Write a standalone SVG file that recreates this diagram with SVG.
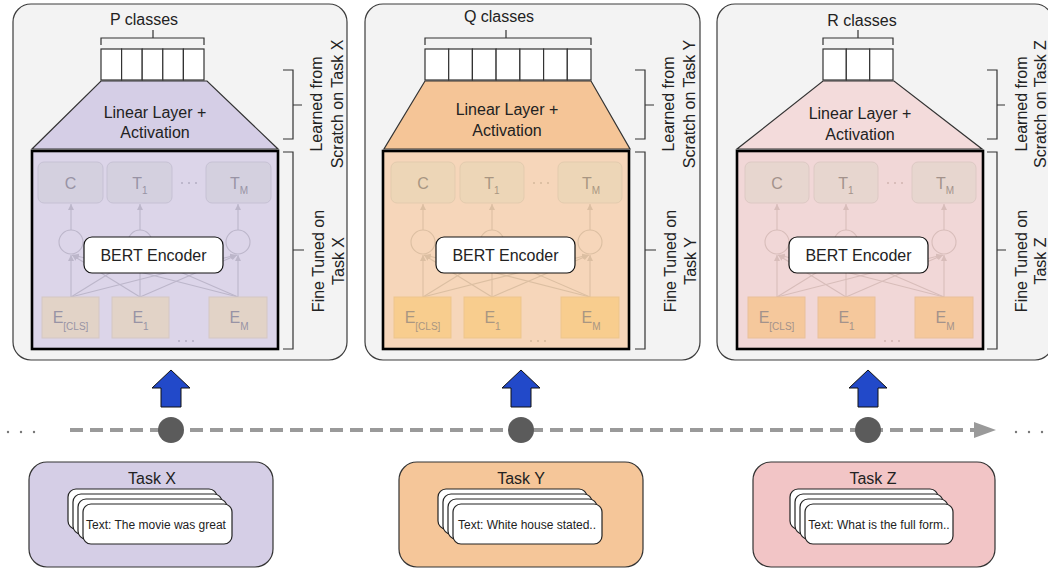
<svg xmlns="http://www.w3.org/2000/svg" width="1048" height="568" viewBox="0 0 1048 568">
<style>
.panel{fill:#f3f3f3;stroke:#3c3c3c;stroke-width:1.2}
.ln{fill:none;stroke:#333;stroke-width:1.2}
.cell{fill:#fff;stroke:#333;stroke-width:1.2}
.t{font-family:'Liberation Sans',Arial,sans-serif;font-size:16px;fill:#222}
.t12{font-family:'Liberation Sans',Arial,sans-serif;font-size:12px;fill:#222}
.trap{stroke:#333;stroke-width:1.2}
.bert{stroke:#000;stroke-width:2.6}
.enc{fill:#fff;stroke:#111;stroke-width:1.2}
.tb,.eb{stroke-width:1}
.fl{fill:none;stroke-width:1.1}
.ft{font-family:'Liberation Sans',Arial,sans-serif;font-size:16px}
.sub{font-size:10px}
.pX .bg{fill:#dcd5e9}.pX .tb{fill:#d4d0df;stroke:#c6c1d4}.pX .eb{fill:#e2d3c7;stroke:#d4c7c4}.pX .ft{fill:#9893a5}.pX .fl{stroke:#bcb6ca}.pX .fd{fill:#b3adc2}
.pY .bg{fill:#f6d6ba}.pY .tb{fill:#edd6b7;stroke:#e3cbae}.pY .eb{fill:#f8cd8e;stroke:#edc58d}.pY .ft{fill:#a99682}.pY .fl{stroke:#dcbfa2}.pY .fd{fill:#d4b89b}
.pZ .bg{fill:#f1d7d7}.pZ .tb{fill:#e7d6cf;stroke:#ddc9c4}.pZ .eb{fill:#f5c89c;stroke:#e9c09a}.pZ .ft{fill:#a3928b}.pZ .fl{stroke:#d8bdba}.pZ .fd{fill:#d0b4b1}
.card{fill:#fff;stroke:#222;stroke-width:1.2}
.task{stroke:#333;stroke-width:1.2}
.blue{fill:#2249c9;stroke:#111;stroke-width:1}
.dot{fill:#5b5b5b}
.gd{fill:#777}
</style>
<defs>
<marker id="mkX" viewBox="0 0 6 6" refX="6" refY="3" markerWidth="6" markerHeight="6" markerUnits="userSpaceOnUse" orient="auto"><path d="M0 0 L6 3 L0 6 Z" fill="#bcb6ca"/></marker>
<marker id="mkY" viewBox="0 0 6 6" refX="6" refY="3" markerWidth="6" markerHeight="6" markerUnits="userSpaceOnUse" orient="auto"><path d="M0 0 L6 3 L0 6 Z" fill="#dcbfa2"/></marker>
<marker id="mkZ" viewBox="0 0 6 6" refX="6" refY="3" markerWidth="6" markerHeight="6" markerUnits="userSpaceOnUse" orient="auto"><path d="M0 0 L6 3 L0 6 Z" fill="#d8bdba"/></marker>
<marker id="mkT" viewBox="0 0 10 10" refX="0" refY="5" markerWidth="22" markerHeight="16" markerUnits="userSpaceOnUse" orient="auto" preserveAspectRatio="none"><path d="M0 0 L10 5 L0 10 Z" fill="#9a9a9a"/></marker>
</defs>

<!-- ===== Panel X ===== -->
<g id="panel-x" class="pX">
  <rect class="panel" x="13" y="4" width="334" height="356" rx="18"/>
  <g id="x-classes">
    <text class="t" x="144" y="25" text-anchor="middle">P classes</text>
    <path class="ln" d="M101 45 V38 H204 V45 M153 38 V30"/>
    <rect class="cell" x="101" y="49" width="20.6" height="31"/>
    <rect class="cell" x="121.6" y="49" width="20.6" height="31"/>
    <rect class="cell" x="142.2" y="49" width="20.6" height="31"/>
    <rect class="cell" x="162.8" y="49" width="20.6" height="31"/>
    <rect class="cell" x="183.4" y="49" width="20.6" height="31"/>
  </g>
  <g id="x-linear">
    <polygon class="trap" points="101,81 207,81 278,149 32,149" fill="#d5cee6"/>
    <text class="t" x="155" y="118" text-anchor="middle">Linear Layer +</text>
    <text class="t" x="155" y="138" text-anchor="middle">Activation</text>
  </g>
  <g id="x-bert">
    <rect class="bg bert" x="32" y="151" width="246" height="198"/>
    <g>
      <rect class="tb" x="38" y="162" width="65" height="41" rx="6"/>
      <rect class="tb" x="107" y="162" width="65" height="41" rx="6"/>
      <rect class="tb" x="206" y="162" width="65" height="41" rx="6"/>
      <text class="ft" x="70.5" y="189" text-anchor="middle">C</text>
      <text class="ft" x="140" y="189" text-anchor="middle">T<tspan class="sub" dy="5">1</tspan></text>
      <text class="ft" x="239" y="189" text-anchor="middle">T<tspan class="sub" dy="5">M</tspan></text>
      <circle class="fd" cx="182" cy="183" r="1"/><circle class="fd" cx="189" cy="183" r="1"/><circle class="fd" cx="196" cy="183" r="1"/>
      <circle class="fl" cx="71" cy="242" r="12"/><circle class="fl" cx="140" cy="242" r="12"/><circle class="fl" cx="238" cy="242" r="12"/>
      <path class="fl" marker-end="url(#mkX)" d="M71 230 V204"/>
      <path class="fl" marker-end="url(#mkX)" d="M140 230 V204"/>
      <path class="fl" marker-end="url(#mkX)" d="M238 230 V204"/>
      <path class="fl" marker-end="url(#mkX)" d="M71 297 L71 255"/>
      <path class="fl" marker-end="url(#mkX)" d="M140 297 L72 255"/>
      <path class="fl" marker-end="url(#mkX)" d="M238 297 L73 255"/>
      <path class="fl" marker-end="url(#mkX)" d="M71 297 L139 255"/>
      <path class="fl" marker-end="url(#mkX)" d="M140 297 L140 255"/>
      <path class="fl" marker-end="url(#mkX)" d="M238 297 L141 255"/>
      <path class="fl" marker-end="url(#mkX)" d="M71 297 L236 255"/>
      <path class="fl" marker-end="url(#mkX)" d="M140 297 L237 255"/>
      <path class="fl" marker-end="url(#mkX)" d="M238 297 L238 255"/>
      <rect class="eb" x="42" y="297" width="57" height="41"/>
      <rect class="eb" x="112" y="297" width="57" height="41"/>
      <rect class="eb" x="209" y="297" width="58" height="41"/>
      <text class="ft" x="70.5" y="323" text-anchor="middle">E<tspan class="sub" dy="7">[CLS]</tspan></text>
      <text class="ft" x="140.5" y="323" text-anchor="middle">E<tspan class="sub" dy="7">1</tspan></text>
      <text class="ft" x="239" y="323" text-anchor="middle">E<tspan class="sub" dy="7">M</tspan></text>
      <circle class="fd" cx="179" cy="341" r="1"/><circle class="fd" cx="186" cy="341" r="1"/><circle class="fd" cx="193" cy="341" r="1"/>
    </g>
    <rect class="enc" x="84" y="237" width="139" height="36" rx="8"/>
    <text class="t" x="153.5" y="261" text-anchor="middle">BERT Encoder</text>
  </g>
  <g id="x-brackets">
    <path class="ln" d="M283 70 H293 V139 H283 M293 105 H302"/>
    <path class="ln" d="M283 152 H293 V349 H283 M293 250 H304"/>
    <text class="t" transform="translate(322,104) rotate(-90)" text-anchor="middle">Learned from</text>
    <text class="t" transform="translate(343,104) rotate(-90)" text-anchor="middle">Scratch on Task X</text>
    <text class="t" transform="translate(324,261) rotate(-90)" text-anchor="middle">Fine Tuned on</text>
    <text class="t" transform="translate(344,261) rotate(-90)" text-anchor="middle">Task X</text>
  </g>
</g>

<!-- ===== Panel Y ===== -->
<g id="panel-y" class="pY">
  <rect class="panel" x="365" y="4" width="335" height="356" rx="18"/>
  <g id="y-classes">
    <text class="t" x="499" y="22" text-anchor="middle">Q classes</text>
    <path class="ln" d="M425 45 V38 H591 V45 M506 38 V30"/>
    <rect class="cell" x="425" y="49" width="23.7" height="31"/>
    <rect class="cell" x="448.7" y="49" width="23.7" height="31"/>
    <rect class="cell" x="472.4" y="49" width="23.7" height="31"/>
    <rect class="cell" x="496.1" y="49" width="23.7" height="31"/>
    <rect class="cell" x="519.9" y="49" width="23.7" height="31"/>
    <rect class="cell" x="543.6" y="49" width="23.7" height="31"/>
    <rect class="cell" x="567.3" y="49" width="23.7" height="31"/>
  </g>
  <g id="y-linear">
    <polygon class="trap" points="425,81 591,81 630,149 384,149" fill="#f5c597"/>
    <text class="t" x="507" y="115" text-anchor="middle">Linear Layer +</text>
    <text class="t" x="507" y="136" text-anchor="middle">Activation</text>
  </g>
  <g id="y-bert" transform="translate(351,0)">
    <rect class="bg bert" x="32" y="151" width="246" height="198"/>
    <g>
      <rect class="tb" x="40" y="162" width="64" height="41" rx="6"/>
      <rect class="tb" x="109" y="162" width="64" height="41" rx="6"/>
      <rect class="tb" x="207" y="162" width="64" height="41" rx="6"/>
      <text class="ft" x="72" y="189" text-anchor="middle">C</text>
      <text class="ft" x="141" y="189" text-anchor="middle">T<tspan class="sub" dy="5">1</tspan></text>
      <text class="ft" x="240" y="189" text-anchor="middle">T<tspan class="sub" dy="5">M</tspan></text>
      <circle class="fd" cx="183" cy="183" r="1"/><circle class="fd" cx="190" cy="183" r="1"/><circle class="fd" cx="197" cy="183" r="1"/>
      <circle class="fl" cx="72" cy="242" r="12"/><circle class="fl" cx="141" cy="242" r="12"/><circle class="fl" cx="239" cy="242" r="12"/>
      <path class="fl" marker-end="url(#mkY)" d="M72 230 V204"/>
      <path class="fl" marker-end="url(#mkY)" d="M141 230 V204"/>
      <path class="fl" marker-end="url(#mkY)" d="M239 230 V204"/>
      <path class="fl" marker-end="url(#mkY)" d="M72 297 L72 255"/>
      <path class="fl" marker-end="url(#mkY)" d="M141 297 L73 255"/>
      <path class="fl" marker-end="url(#mkY)" d="M239 297 L74 255"/>
      <path class="fl" marker-end="url(#mkY)" d="M72 297 L140 255"/>
      <path class="fl" marker-end="url(#mkY)" d="M141 297 L141 255"/>
      <path class="fl" marker-end="url(#mkY)" d="M239 297 L142 255"/>
      <path class="fl" marker-end="url(#mkY)" d="M72 297 L237 255"/>
      <path class="fl" marker-end="url(#mkY)" d="M141 297 L238 255"/>
      <path class="fl" marker-end="url(#mkY)" d="M239 297 L239 255"/>
      <rect class="eb" x="43" y="297" width="57" height="41"/>
      <rect class="eb" x="113" y="297" width="57" height="41"/>
      <rect class="eb" x="210" y="297" width="58" height="41"/>
      <text class="ft" x="71.5" y="323" text-anchor="middle">E<tspan class="sub" dy="7">[CLS]</tspan></text>
      <text class="ft" x="141.5" y="323" text-anchor="middle">E<tspan class="sub" dy="7">1</tspan></text>
      <text class="ft" x="240" y="323" text-anchor="middle">E<tspan class="sub" dy="7">M</tspan></text>
      <circle class="fd" cx="180" cy="341" r="1"/><circle class="fd" cx="187" cy="341" r="1"/><circle class="fd" cx="194" cy="341" r="1"/>
    </g>
    <rect class="enc" x="85" y="237" width="139" height="36" rx="8"/>
    <text class="t" x="154.5" y="261" text-anchor="middle">BERT Encoder</text>
  </g>
  <g id="y-brackets" transform="translate(352,0)">
    <path class="ln" d="M283 70 H293 V139 H283 M293 105 H302"/>
    <path class="ln" d="M283 152 H293 V349 H283 M293 250 H304"/>
    <text class="t" transform="translate(322,104) rotate(-90)" text-anchor="middle">Learned from</text>
    <text class="t" transform="translate(343,104) rotate(-90)" text-anchor="middle">Scratch on Task Y</text>
    <text class="t" transform="translate(324,261) rotate(-90)" text-anchor="middle">Fine Tuned on</text>
    <text class="t" transform="translate(344,261) rotate(-90)" text-anchor="middle">Task Y</text>
  </g>
</g>

<!-- ===== Panel Z ===== -->
<g id="panel-z" class="pZ">
  <rect class="panel" x="717" y="4" width="336" height="356" rx="18"/>
  <g id="z-classes">
    <text class="t" x="862" y="26" text-anchor="middle">R classes</text>
    <path class="ln" d="M823 45 V38 H893 V45 M858 38 V30"/>
    <rect class="cell" x="823" y="49" width="23.3" height="31"/>
    <rect class="cell" x="846.3" y="49" width="23.3" height="31"/>
    <rect class="cell" x="869.7" y="49" width="23.3" height="31"/>
  </g>
  <g id="z-linear">
    <polygon class="trap" points="823,81 894,81 982,149 737,149" fill="#f3dbdb"/>
    <text class="t" x="860" y="119" text-anchor="middle">Linear Layer +</text>
    <text class="t" x="860" y="140" text-anchor="middle">Activation</text>
  </g>
  <g id="z-bert" transform="translate(705,0)">
    <rect class="bg bert" x="32" y="151" width="246" height="198"/>
    <g>
      <rect class="tb" x="40" y="162" width="64" height="41" rx="6"/>
      <rect class="tb" x="109" y="162" width="64" height="41" rx="6"/>
      <rect class="tb" x="207" y="162" width="64" height="41" rx="6"/>
      <text class="ft" x="72" y="189" text-anchor="middle">C</text>
      <text class="ft" x="141" y="189" text-anchor="middle">T<tspan class="sub" dy="5">1</tspan></text>
      <text class="ft" x="240" y="189" text-anchor="middle">T<tspan class="sub" dy="5">M</tspan></text>
      <circle class="fd" cx="183" cy="183" r="1"/><circle class="fd" cx="190" cy="183" r="1"/><circle class="fd" cx="197" cy="183" r="1"/>
      <circle class="fl" cx="72" cy="242" r="12"/><circle class="fl" cx="141" cy="242" r="12"/><circle class="fl" cx="239" cy="242" r="12"/>
      <path class="fl" marker-end="url(#mkZ)" d="M72 230 V204"/>
      <path class="fl" marker-end="url(#mkZ)" d="M141 230 V204"/>
      <path class="fl" marker-end="url(#mkZ)" d="M239 230 V204"/>
      <path class="fl" marker-end="url(#mkZ)" d="M72 297 L72 255"/>
      <path class="fl" marker-end="url(#mkZ)" d="M141 297 L73 255"/>
      <path class="fl" marker-end="url(#mkZ)" d="M239 297 L74 255"/>
      <path class="fl" marker-end="url(#mkZ)" d="M72 297 L140 255"/>
      <path class="fl" marker-end="url(#mkZ)" d="M141 297 L141 255"/>
      <path class="fl" marker-end="url(#mkZ)" d="M239 297 L142 255"/>
      <path class="fl" marker-end="url(#mkZ)" d="M72 297 L237 255"/>
      <path class="fl" marker-end="url(#mkZ)" d="M141 297 L238 255"/>
      <path class="fl" marker-end="url(#mkZ)" d="M239 297 L239 255"/>
      <rect class="eb" x="43" y="297" width="57" height="41"/>
      <rect class="eb" x="113" y="297" width="57" height="41"/>
      <rect class="eb" x="210" y="297" width="58" height="41"/>
      <text class="ft" x="71.5" y="323" text-anchor="middle">E<tspan class="sub" dy="7">[CLS]</tspan></text>
      <text class="ft" x="141.5" y="323" text-anchor="middle">E<tspan class="sub" dy="7">1</tspan></text>
      <text class="ft" x="240" y="323" text-anchor="middle">E<tspan class="sub" dy="7">M</tspan></text>
      <circle class="fd" cx="180" cy="341" r="1"/><circle class="fd" cx="187" cy="341" r="1"/><circle class="fd" cx="194" cy="341" r="1"/>
    </g>
    <rect class="enc" x="84" y="237" width="139" height="36" rx="8"/>
    <text class="t" x="153.5" y="261" text-anchor="middle">BERT Encoder</text>
  </g>
  <g id="z-brackets">
    <path class="ln" d="M987 70 H997 V139 H987 M997 105 H1005"/>
    <path class="ln" d="M987 152 H997 V349 H987 M997 250 H1006"/>
    <text class="t" transform="translate(1027,104) rotate(-90)" text-anchor="middle">Learned from</text>
    <text class="t" transform="translate(1046,104) rotate(-90)" text-anchor="middle">Scratch on Task Z</text>
    <text class="t" transform="translate(1027,261) rotate(-90)" text-anchor="middle">Fine Tuned on</text>
    <text class="t" transform="translate(1046,261) rotate(-90)" text-anchor="middle">Task Z</text>
  </g>
</g>

<!-- ===== Connectors / timeline ===== -->
<g id="connectors">
  <path d="M70 430 H974" fill="none" stroke="#9a9a9a" stroke-width="4" stroke-dasharray="13 7" marker-end="url(#mkT)"/>
  <polygon class="blue" points="171,370 190,388 181,388 181,407 161,407 161,388 152,388"/>
  <polygon class="blue" points="521,370 540,388 531,388 531,407 511,407 511,388 502,388"/>
  <polygon class="blue" points="868,370 887,388 878,388 878,407 858,407 858,388 849,388"/>
  <circle class="dot" cx="171" cy="430" r="13"/>
  <circle class="dot" cx="521" cy="430" r="13"/>
  <circle class="dot" cx="868" cy="430" r="13"/>
  <circle class="gd" cx="8" cy="432" r="1.2"/><circle class="gd" cx="21" cy="432" r="1.2"/><circle class="gd" cx="34" cy="432" r="1.2"/>
  <circle class="gd" cx="1016" cy="432" r="1.2"/><circle class="gd" cx="1029" cy="432" r="1.2"/><circle class="gd" cx="1042" cy="432" r="1.2"/>
</g>

<!-- ===== Task boxes ===== -->
<g id="task-x">
  <rect class="task" x="29" y="462" width="244" height="105" rx="18" fill="#d5cee6"/>
  <text class="t" x="152" y="484" text-anchor="middle">Task X</text>
  <rect class="card" x="68" y="489" width="149" height="40" rx="8"/>
  <rect class="card" x="73" y="494" width="149" height="40" rx="8"/>
  <rect class="card" x="78" y="499" width="149" height="40" rx="8"/>
  <rect class="card" x="83" y="504" width="149" height="40" rx="8"/>
  <text class="t12" x="156" y="529" text-anchor="middle">Text: The movie was great</text>
</g>
<g id="task-y">
  <rect class="task" x="399" y="462" width="244" height="105" rx="18" fill="#f5c699"/>
  <text class="t" x="521" y="484" text-anchor="middle">Task Y</text>
  <rect class="card" x="438" y="489" width="149" height="40" rx="8"/>
  <rect class="card" x="443" y="494" width="149" height="40" rx="8"/>
  <rect class="card" x="448" y="499" width="149" height="40" rx="8"/>
  <rect class="card" x="453" y="504" width="149" height="40" rx="8"/>
  <text class="t12" x="527" y="529" text-anchor="middle">Text: White house stated..</text>
</g>
<g id="task-z">
  <rect class="task" x="753" y="462" width="242" height="105" rx="18" fill="#f2c5c6"/>
  <text class="t" x="873" y="484" text-anchor="middle">Task Z</text>
  <rect class="card" x="790" y="489" width="148" height="40" rx="8"/>
  <rect class="card" x="795" y="494" width="148" height="40" rx="8"/>
  <rect class="card" x="800" y="499" width="148" height="40" rx="8"/>
  <rect class="card" x="805" y="504" width="148" height="40" rx="8"/>
  <text class="t12" x="879" y="529" text-anchor="middle">Text: What is the full form..</text>
</g>
</svg>
